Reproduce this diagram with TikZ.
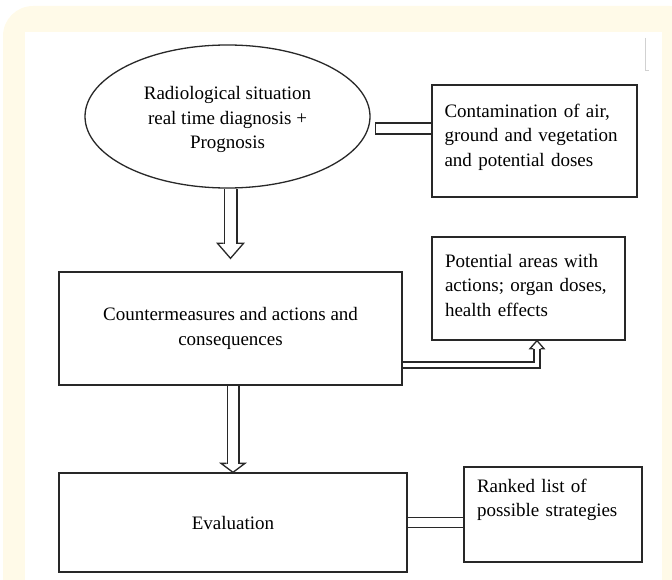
\documentclass[tikz,border=0pt]{standalone}
\usepackage{fontspec}
\setmainfont{Liberation Serif}
\usetikzlibrary{shapes.geometric,calc}

\definecolor{linec}{RGB}{40,40,40}
\definecolor{cream}{RGB}{255,250,232}

\begin{document}
\begin{tikzpicture}[x=1pt,y=-1pt,line width=1.3pt,
        font=\fontsize{19}{24.5}\selectfont,
        box/.style={draw=linec,rectangle,inner sep=0pt},
        hollow/.style={draw=linec,double=white,double distance=#1,shorten <=0.65pt}]
        \useasboundingbox (0,0) rectangle (672,580);
        \clip (0,0) rectangle (672,580);
        \fill[cream,rounded corners=30pt] (3,6) rectangle (700,620);
        \fill[white] (25,32) rectangle (662,600);
        \draw[black!18,line width=0.8pt] (645,38) -- (645,70) -- (649,70);

        \node[ellipse,draw=linec,minimum width=285,minimum height=143,inner sep=0pt,align=center] (rad) at (227.5,116.5)
            {\rule{0pt}{20pt}Radiological situation\\real time diagnosis +\\Prognosis};
        \node[box,minimum width=205,minimum height=112,text width=180,align=left] (cont) at (534.5,141)
            {Contamination of air,\\ground and vegetation\\and potential doses\rule[-12pt]{0pt}{12pt}};
        \node[box,minimum width=343,minimum height=113,align=center] (cm) at (230.5,328.5)
            {Countermeasures and actions and\\consequences};
        \node[box,minimum width=193,minimum height=103,text width=167,align=left] (pot) at (528.5,288.5)
            {Potential areas with\\actions; organ doses,\\health effects\rule[-7pt]{0pt}{7pt}};
        \node[box,minimum width=348,minimum height=99] (eval) at (233,522.5) {Evaluation};
        \node[box,minimum width=178,minimum height=95,text width=152,align=left] (rank) at (553,514.5)
            {Ranked list of\\possible strategies\rule[-33pt]{0pt}{33pt}};

        \draw[linec] ($(cont.west)+(-56,-18)$) rectangle ($(cont.west)+(0,-7)$);

        \coordinate (h1) at ($(cm.north)+(0,-28)$);
        \draw[linec] ($(h1)+(-7,0)$) -- ++(-6,0) -- ($(cm.north)+(0,-13)$) -- ($(h1)+(13,0)$) -- ++(-6,0);
        \draw[hollow=11.4pt] (rad.south -| h1) -- ($(h1)+(0,0.6)$);

        \coordinate (h3) at ($(pot.south)+(8.5,8)$);
        \draw[linec] ($(h3)+(-3.6,0)$) -- ++(-3.4,0) -- ($(pot.south)+(8.5,0)$) -- ($(h3)+(7,0)$) -- ++(-3.4,0);
        \draw[hollow=4.6pt] ($(cm.east)+(0,36.5)$) -| ($(h3)+(0,0.6)$);

        \coordinate (h2) at ($(eval.north)+(0,-9)$);
        \draw[linec] ($(h2)+(-6.5,0)$) -- ++(-5.5,0) -- (eval.north) -- ($(h2)+(12,0)$) -- ++(-5.5,0);
        \draw[hollow=10.4pt] (cm.south -| h2) -- ($(h2)+(0,0.6)$);

        \draw[hollow=8.4pt,shorten >=0.65pt] (eval.east) -- (eval.east -| rank.west);
\end{tikzpicture}
\end{document}
